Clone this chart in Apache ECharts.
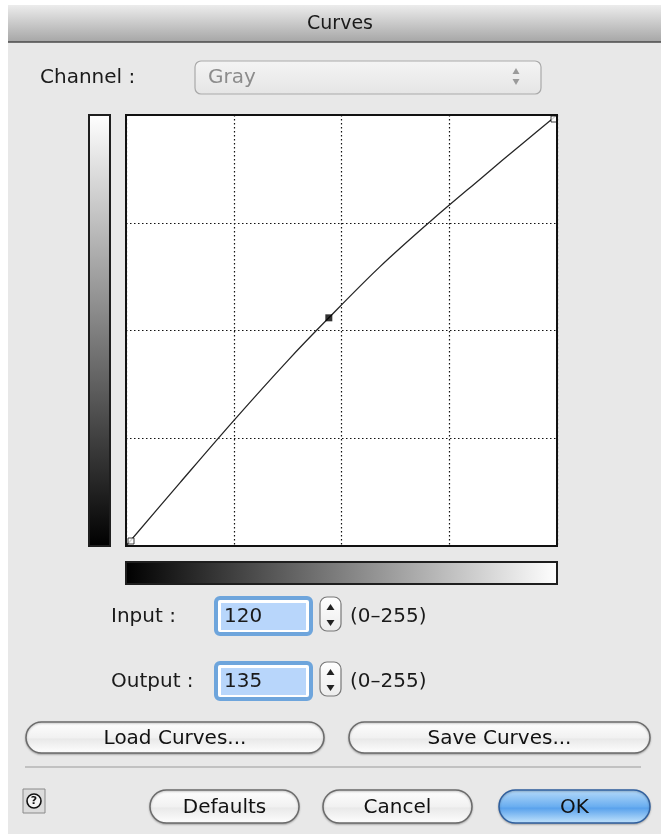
<!DOCTYPE html>
<html><head><meta charset="utf-8">
<script src="https://cdn.jsdelivr.net/npm/echarts@6/dist/echarts.min.js"></script>
<style>html,body{margin:0;padding:0;background:#fff}#c{width:661px;height:834px}</style>
</head><body><div id="c"></div>
<script>
// Curve data (input -> output)
const curveInputs  = [0, 32, 64, 96, 120, 150, 180, 210, 235, 255];
const curveOutputs = [0, 37.5, 74.5, 110, 135, 165, 192, 217.5, 238.5, 255];
// Control points of the curve
const ctrlInputs  = [0, 120, 255];
const ctrlOutputs = [0, 135, 255];
// Axis range and quarter grid spacing
const axisMin = 0, axisMax = 255, gridStep = 63.75;
const inputValue = '120', outputValue = '135', rangeText = '(0–255)';

const FONT = '"DejaVu Sans", "Open Sans", sans-serif';
const F = '20px ' + FONT;
const chart = echarts.init(document.getElementById('c'), null, {renderer: 'canvas'});

function pill(x, y, w, h, text, blue) {
  const fill = blue
    ? new echarts.graphic.LinearGradient(0,0,0,1,[{offset:0,color:'#b9dcfa'},{offset:0.5,color:'#6aaef0'},{offset:0.55,color:'#5aa2ec'},{offset:1,color:'#c6e6fd'}])
    : new echarts.graphic.LinearGradient(0,0,0,1,[{offset:0,color:'#ffffff'},{offset:0.5,color:'#f1f1f1'},{offset:0.55,color:'#e9e9e9'},{offset:1,color:'#ffffff'}]);
  return [
    {type:'rect', shape:{x:x, y:y, width:w, height:h, r:h/2}, z:1,
     style:{fill:fill, stroke: blue ? '#2f5f9e' : '#6b6b6b', lineWidth:1.5, shadowBlur:2, shadowColor:'rgba(0,0,0,0.25)', shadowOffsetY:1}},
    {type:'text', x:x + w/2, y:y + h/2 + 1, z:2,
     style:{text:text, fill:'#111', font:F, align:'center', verticalAlign:'middle'}}
  ];
}

function field(y, value, label, labelX) {
  return [
    {type:'text', x:labelX, y:y + 1, z:2, style:{text:label, fill:'#1a1a1a', font:F, verticalAlign:'middle'}},
    {type:'rect', shape:{x:216, y:y-18, width:95, height:36, r:4}, z:1,
     style:{fill:'#fff', stroke:'#6ea5dc', lineWidth:4}},
    {type:'rect', shape:{x:221, y:y-13, width:85, height:27}, z:2, style:{fill:'#b8d6fb'}},
    {type:'text', x:224, y:y+1, z:3, style:{text:value, fill:'#1a1a1a', font:F, verticalAlign:'middle'}},
    {type:'rect', shape:{x:320, y:y-19, width:21, height:34, r:7}, z:1,
     style:{fill:new echarts.graphic.LinearGradient(0,0,0,1,[{offset:0,color:'#fff'},{offset:1,color:'#ececec'}]), stroke:'#777', lineWidth:1.2}},
    {type:'polygon', shape:{points:[[326.5,y-6],[334.5,y-6],[330.5,y-12]]}, z:2, style:{fill:'#222'}},
    {type:'polygon', shape:{points:[[326.5,y+4],[334.5,y+4],[330.5,y+10]]}, z:2, style:{fill:'#222'}},
    {type:'text', x:350, y:y + 1, z:2, style:{text:rangeText, fill:'#1a1a1a', font:F, verticalAlign:'middle'}}
  ];
}

const graphics = [
  // window body
  {type:'rect', shape:{x:8, y:42, width:653, height:792}, z:-10, style:{fill:'#e8e8e8'}},
  // title bar
  {type:'rect', shape:{x:8, y:5, width:653, height:37}, z:-9,
   style:{fill:new echarts.graphic.LinearGradient(0,0,0,1,[{offset:0,color:'#ececec'},{offset:1,color:'#a6a6a6'}])}},
  {type:'line', shape:{x1:8, y1:42, x2:661, y2:42}, z:-8, style:{stroke:'#4a4a4a', lineWidth:1.5}},
  {type:'text', x:340, y:24, z:2, style:{text:'Curves', fill:'#1a1a1a', font:'19px ' + FONT, align:'center', verticalAlign:'middle'}},
  // channel row
  {type:'text', x:40, y:78, z:2, style:{text:'Channel :', fill:'#1a1a1a', font:F, verticalAlign:'middle'}},
  {type:'rect', shape:{x:195, y:61, width:346, height:33, r:6}, z:1,
   style:{fill:new echarts.graphic.LinearGradient(0,0,0,1,[{offset:0,color:'#f4f4f4'},{offset:1,color:'#e5e5e5'}]), stroke:'#a9a9a9', lineWidth:1.2}},
  {type:'text', x:208, y:78, z:2, style:{text:'Gray', fill:'#8c8c8c', font:F, verticalAlign:'middle'}},
  {type:'polygon', shape:{points:[[512.5,74],[519.5,74],[516,68]]}, z:2, style:{fill:'#9a9a9a'}},
  {type:'polygon', shape:{points:[[512.5,79],[519.5,79],[516,85]]}, z:2, style:{fill:'#9a9a9a'}},
  // vertical gradient bar
  {type:'rect', shape:{x:89, y:115, width:21, height:431}, z:1,
   style:{fill:new echarts.graphic.LinearGradient(0,0,0,1,[{offset:0,color:'#ffffff'},{offset:1,color:'#000000'}]), stroke:'#1e1e1e', lineWidth:2}},
  // plot box
  {type:'rect', shape:{x:126, y:115, width:431, height:431}, z:-5, style:{fill:'#ffffff'}},
  {type:'rect', shape:{x:126, y:115, width:431, height:431}, z:5, style:{fill:null, stroke:'#111', lineWidth:2}},
  // horizontal gradient bar
  {type:'rect', shape:{x:126, y:562, width:431, height:22}, z:1,
   style:{fill:new echarts.graphic.LinearGradient(0,0,1,0,[{offset:0,color:'#000000'},{offset:1,color:'#ffffff'}]), stroke:'#1e1e1e', lineWidth:2}},
  // separator
  {type:'line', shape:{x1:25, y1:767, x2:641, y2:767}, z:1, style:{stroke:'#9a9a9a', lineWidth:1}},
  // help button
  {type:'rect', shape:{x:23, y:789, width:22, height:24}, z:1, style:{fill:'#dcdcdc', stroke:'#8a8a8a', lineWidth:1}},
  {type:'circle', shape:{cx:34, cy:801, r:7}, z:2, style:{fill:'#f4f4f4', stroke:'#111', lineWidth:1.6}},
  {type:'text', x:34, y:801.5, z:3, style:{text:'?', fill:'#111', font:'bold 11px ' + FONT, align:'center', verticalAlign:'middle'}}
]
.concat(field(616, inputValue, 'Input :', 111))
.concat(field(681, outputValue, 'Output :', 111))
.concat(pill(26, 722, 298, 31, 'Load Curves...'))
.concat(pill(349, 722, 301, 31, 'Save Curves...'))
.concat(pill(150, 790, 149, 33, 'Defaults'))
.concat(pill(323, 790, 149, 33, 'Cancel'))
.concat(pill(499, 790, 151, 33, 'OK', true));

const dotted = {color:'#111', width:1.2, type:[1.5, 2.5]};

chart.setOption({
  animation: false,
  backgroundColor: '#ffffff',
  grid: {left:126, top:115, width:431, height:431, show:false},
  xAxis: {type:'value', min:axisMin, max:axisMax, interval:gridStep, axisLine:{show:false}, axisTick:{show:false}, axisLabel:{show:false}, splitLine:{show:true, lineStyle:dotted}},
  yAxis: {type:'value', min:axisMin, max:axisMax, interval:gridStep, axisLine:{show:false}, axisTick:{show:false}, axisLabel:{show:false}, splitLine:{show:true, lineStyle:dotted}},
  graphic: graphics,
  series: [
    {
      type:'line', smooth:0.35, symbol:'none', z:3,
      data: curveInputs.map((v, i) => [v, curveOutputs[i]]),
      lineStyle:{color:'#262626', width:1.3}
    },
    {
      type:'scatter', z:4,
      data: ctrlInputs.map((v, i) => {
        const middle = i === 1;
        const off = i === 0 ? [5, -5] : (i === ctrlInputs.length - 1 ? [-3, 4] : [0, 0]);
        return {
          value:[v, ctrlOutputs[i]],
          symbol:'rect', symbolSize: middle ? 7 : 6, symbolOffset: off,
          itemStyle: middle ? {color:'#000'} : {color:'#fff', borderColor:'#111', borderWidth:1}
        };
      })
    }
  ]
});
</script>
</body></html>
